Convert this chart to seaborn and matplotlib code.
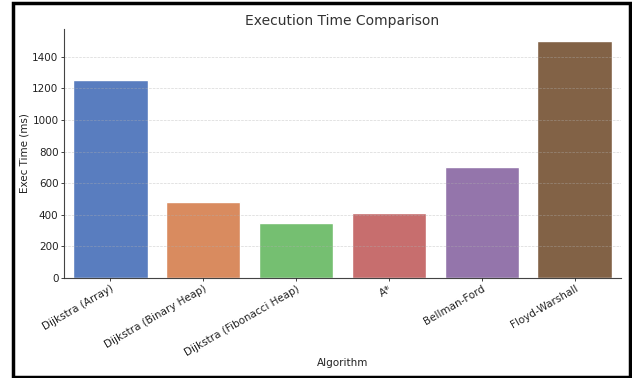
import matplotlib
matplotlib.use("Agg")
import pandas as pd
import seaborn as sns
from matplotlib import pyplot as plt
from matplotlib.patches import Rectangle

algorithms = ['Dijkstra (Array)', 'Dijkstra (Binary Heap)', 'Dijkstra (Fibonacci Heap)',
              'A*', 'Bellman-Ford', 'Floyd-Warshall']
exec_times = [1250, 480, 350, 410, 700, 1500]

df = pd.DataFrame({'Algorithm': algorithms, 'Exec Time (ms)': exec_times})

sns.set_style('ticks')
plt.rcParams['font.family'] = ['DejaVu Sans']

fig = plt.figure(figsize=(6.32, 3.78), dpi=100)
ax = fig.add_axes([64 / 632, 1 - 278 / 378, (621 - 64) / 632, (278 - 29) / 378])

sns.barplot(data=df, x='Algorithm', y='Exec Time (ms)', hue='Algorithm',
            palette='muted', legend=False, ax=ax)

ax.set_title('Execution Time Comparison', fontsize=10, color='#333333', pad=3)
ax.set_xlabel('Algorithm', fontsize=7.5, color='#222222', labelpad=0)
ax.set_ylabel('Exec Time (ms)', fontsize=7.5, color='#222222', labelpad=2)
ax.tick_params(axis='both', labelsize=7.5, colors='#222222', length=2.5, width=0.6, pad=1.5)
plt.setp(ax.get_xticklabels(), rotation=30, ha='right', rotation_mode='anchor')
ax.grid(axis='y', linestyle='--', linewidth=0.5, color='#b0b0b0', alpha=0.5)
ax.set_axisbelow(False)
sns.despine(ax=ax)
for s in ['left', 'bottom']:
    ax.spines[s].set_color('#444444')
    ax.spines[s].set_linewidth(0.8)

# black frame around the whole picture
fig.patches.append(Rectangle((13 / 632, 1 - 377 / 378), 617 / 632, 374 / 378,
                             transform=fig.transFigure, fill=False,
                             edgecolor='black', linewidth=2.5))

fig.savefig('out.png', dpi=100)
